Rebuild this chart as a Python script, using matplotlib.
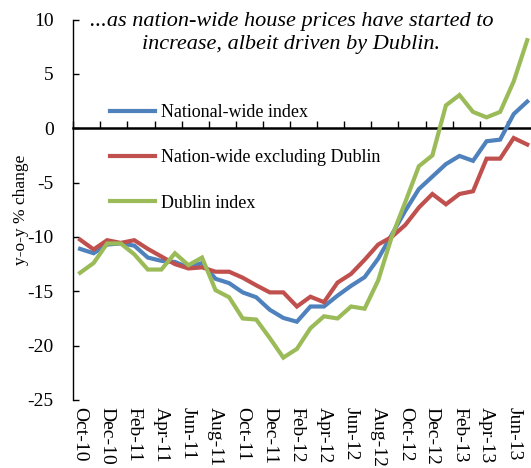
import matplotlib
matplotlib.use("Agg")
import matplotlib.pyplot as plt

months = ["Oct-10", "Nov-10", "Dec-10", "Jan-11", "Feb-11", "Mar-11", "Apr-11", "May-11",
          "Jun-11", "Jul-11", "Aug-11", "Sep-11", "Oct-11", "Nov-11", "Dec-11", "Jan-12",
          "Feb-12", "Mar-12", "Apr-12", "May-12", "Jun-12", "Jul-12", "Aug-12", "Sep-12",
          "Oct-12", "Nov-12", "Dec-12", "Jan-13", "Feb-13", "Mar-13", "Apr-13", "May-13",
          "Jun-13", "Jul-13"]

national = [-11.1, -11.5, -10.7, -10.6, -10.8, -11.9, -12.2, -12.3, -12.8, -12.4,
            -13.85, -14.25, -15.1, -15.55, -16.7, -17.45, -17.8, -16.4, -16.4, -15.4,
            -14.5, -13.7, -12.0, -9.8, -7.6, -5.6, -4.45, -3.3, -2.55, -3.0,
            -1.2, -1.05, 1.3, 2.45]
ex_dublin = [-10.25, -11.15, -10.3, -10.55, -10.3, -11.1, -11.8, -12.5, -12.9, -12.8,
             -13.2, -13.2, -13.75, -14.45, -15.1, -15.1, -16.4, -15.5, -16.0, -14.2,
             -13.4, -12.1, -10.7, -10.0, -8.9, -7.3, -6.05, -7.0, -6.05, -5.8,
             -2.8, -2.8, -0.9, -1.5]
dublin = [-13.3, -12.4, -10.6, -10.6, -11.6, -13.0, -13.0, -11.5, -12.6, -11.9,
          -14.9, -15.55, -17.5, -17.6, -19.3, -21.1, -20.3, -18.4, -17.3, -17.5,
          -16.4, -16.6, -14.0, -10.0, -6.8, -3.5, -2.5, 2.1, 3.05, 1.5,
          1.0, 1.5, 4.3, 8.1]

series_names = ["National-wide index", "Nation-wide excluding Dublin", "Dublin index"]
colors = ["#4F81BD", "#C0504D", "#9BBB59"]
yticks = [-25, -20, -15, -10, -5, 0, 5, 10]
title = "...as nation-wide house prices have started to\nincrease, albeit driven by Dublin."
ylabel = "y-o-y % change"

plt.rcParams['font.family'] = ['Liberation Serif', 'DejaVu Serif']

W, H = 531, 468
fig = plt.figure(figsize=(W / 100, H / 100), dpi=100)
left_px, right_px, top_px, bottom_px = 73.3, 534.0, 19.5, 400.0
ax = fig.add_axes([left_px / W, 1 - bottom_px / H, (right_px - left_px) / W, (bottom_px - top_px) / H])

x = list(range(len(months)))
for vals, name, c in zip([national, ex_dublin, dublin], series_names, colors):
    ax.plot(x, vals, color=c, lw=3.0, label=name, solid_joinstyle='miter')

ax.set_xlim(-0.5, len(months) - 0.5)
ax.set_ylim(-25, 10)
ax.set_yticks(yticks)
ax.set_yticklabels([str(v) for v in yticks])
ax.tick_params(axis='y', direction='in', length=4, width=1, labelsize=14, pad=14)

ax.set_xticks(x[::2])
ax.set_xticklabels(months[::2], rotation=-90)
ax.tick_params(axis='x', length=0, labelsize=14, pad=5)

for s in ['top', 'right', 'bottom']:
    ax.spines[s].set_visible(False)
ax.spines['left'].set_linewidth(1.0)

# zero line with category boundary ticks
sec = ax.secondary_xaxis(0, transform=ax.transData)
sec.set_xticks([i - 0.5 for i in x[::2]])
sec.tick_params(axis='x', direction='in', length=5, width=1, labelbottom=False, labeltop=False)
sec.spines['bottom'].set_linewidth(1.8)
sec.spines['bottom'].set_color('black')

ax.set_ylabel(ylabel, fontsize=12.5, labelpad=-1)

leg = ax.legend(loc='upper left', bbox_to_anchor=((110 - left_px) / (right_px - left_px), (bottom_px - 104) / (bottom_px - top_px)),
                frameon=False, fontsize=13, handlelength=2.5, handletextpad=0.3,
                labelspacing=1.57, borderpad=0, borderaxespad=0)

fig.text(291.5 / W, 1 - 33 / H, title, ha='center', va='center', fontsize=16,
         style='italic', linespacing=1.22)

fig.savefig("out.png", dpi=100)
